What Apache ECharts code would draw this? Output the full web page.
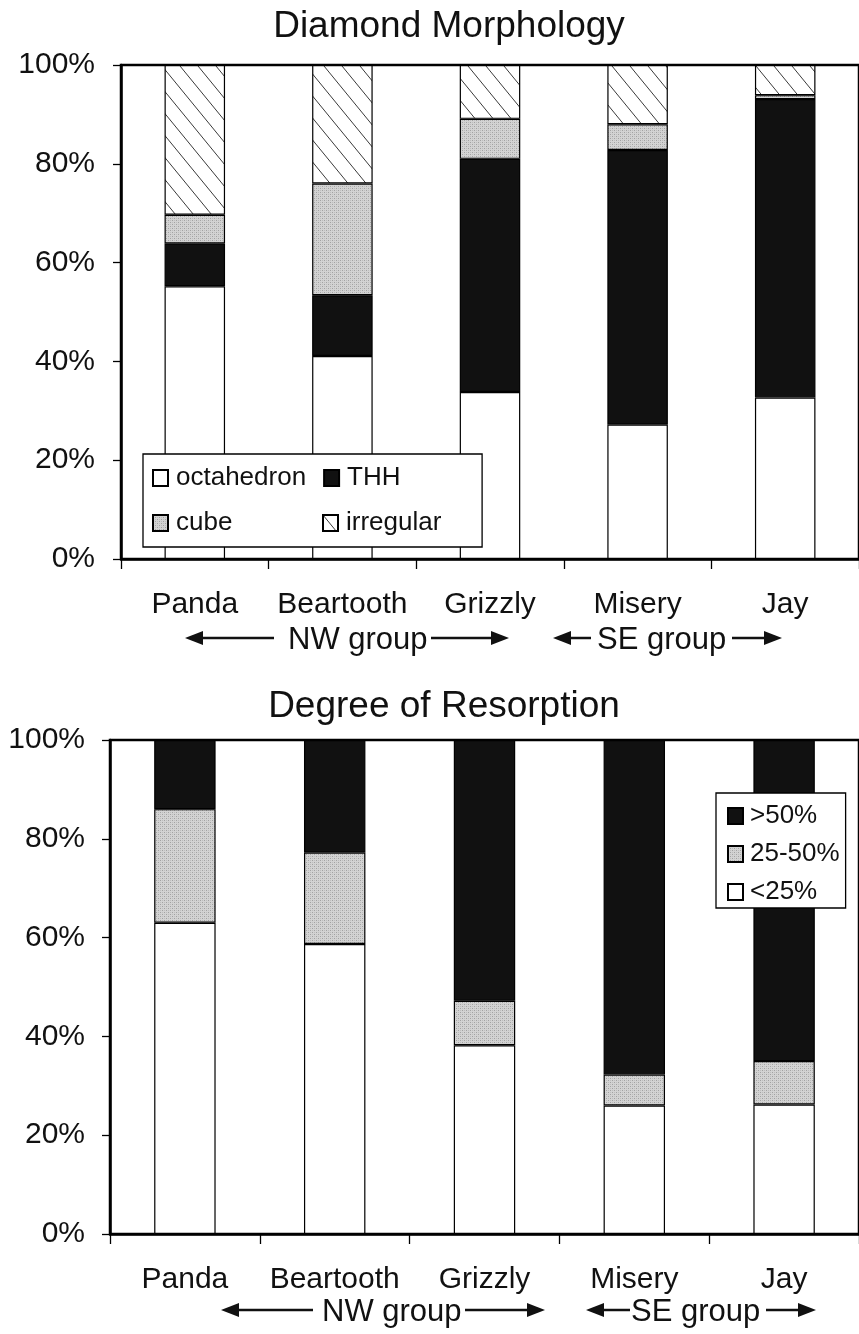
<!DOCTYPE html>
<html><head><meta charset="utf-8">
<script src="https://cdn.jsdelivr.net/npm/echarts@6/dist/echarts.min.js"></script>
<style>html,body{margin:0;padding:0;background:#fff}#c{width:859px;height:1334px}</style>
</head><body><div id="c"></div>
<script>
// ---- data ----
const categories = ['Panda', 'Beartooth', 'Grizzly', 'Misery', 'Jay'];
const yTickLabels = ['0%', '20%', '40%', '60%', '80%', '100%'];
// Diamond Morphology (stack segments, %)
const octahedron = [55.2, 41.1, 33.8, 27.2, 32.7];
const thh        = [8.7, 12.3, 47.2, 55.6, 60.4];
const cube       = [5.8, 22.6, 8.1, 5.2, 0.8];
const irregular  = [30.3, 24.0, 10.9, 12.0, 6.1];
// Degree of Resorption (stack segments, %)
const lt25    = [63.0, 58.7, 38.2, 26.0, 26.2];
const r25to50 = [23.0, 18.5, 9.0, 6.3, 8.8];
const gt50    = [14.0, 22.8, 52.8, 67.7, 65.0];
const titles = ['Diamond Morphology', 'Degree of Resorption'];
const groupLabels = ['NW group', 'SE group'];

// ---- patterns ----
function hatchPattern() {
  const w = 18, h = 22;
  const c = document.createElement('canvas'); c.width = w; c.height = h;
  const g = c.getContext('2d');
  g.fillStyle = '#fff'; g.fillRect(0, 0, w, h);
  g.strokeStyle = '#3a3a3a'; g.lineWidth = 1;
  g.beginPath();
  for (const dx of [-w, 0, w]) { g.moveTo(dx, 0); g.lineTo(dx + w, h); }
  g.stroke();
  return { image: c, repeat: 'repeat' };
}
function stipplePattern() {
  const c = document.createElement('canvas'); c.width = 4; c.height = 4;
  const g = c.getContext('2d');
  g.fillStyle = '#d3d3d3'; g.fillRect(0, 0, 4, 4);
  g.fillStyle = '#a2a2a2'; g.fillRect(0, 0, 1, 1); g.fillRect(2, 2, 1, 1);
  g.fillStyle = '#bdbdbd'; g.fillRect(2, 0, 1, 1); g.fillRect(0, 2, 1, 1);
  return { image: c, repeat: 'repeat' };
}
const HATCH = hatchPattern();
const GRAY = stipplePattern();

const FONT = '"Liberation Sans", Arial, Helvetica, sans-serif';
const TXT = '#111';

const grids = [
  { left: 121, top: 65, width: 739, height: 494 },
  { left: 110, top: 740, width: 761, height: 494 }
];

function xAxisFor(i) {
  return {
    type: 'category', gridIndex: i, data: categories,
    axisLine: { lineStyle: { color: '#000', width: 2.5 } },
    axisTick: { show: true, length: 10, lineStyle: { color: '#000', width: 1.3 } },
    axisLabel: { fontSize: 30, color: TXT, fontFamily: FONT, margin: 31, interval: 0 }
  };
}
function yAxisFor(i) {
  return {
    type: 'value', gridIndex: i, min: 0, max: 100, interval: 20,
    axisLine: { show: true, lineStyle: { color: '#000', width: 2.5 } },
    axisTick: { show: true, length: 8, lineStyle: { color: '#000', width: 1.3 } },
    splitLine: { show: false },
    axisLabel: {
      fontSize: 30, color: TXT, fontFamily: FONT, margin: i === 0 ? 26 : 25,
      formatter: v => yTickLabels[Math.round(v / 20)]
    }
  };
}
function bar(name, data, color, gi, stack) {
  return {
    name, type: 'bar', data, stack, xAxisIndex: gi, yAxisIndex: gi,
    barWidth: '41%',
    itemStyle: { color, borderColor: '#000', borderWidth: 1.2 },
    emphasis: { disabled: true }
  };
}

// group annotations (arrows + text)
function arrowLine(x1, x2, y, tipAtLeft, tipAtRight) {
  const els = [];
  const L = 18, H = 7;
  const a = tipAtLeft ? x1 + L - 2 : x1;
  const b = tipAtRight ? x2 - L + 2 : x2;
  els.push({ type: 'line', shape: { x1: a, y1: y, x2: b, y2: y }, style: { stroke: '#111', lineWidth: 2.5 } });
  if (tipAtLeft) els.push({ type: 'polygon', shape: { points: [[x1, y], [x1 + L, y - H], [x1 + L, y + H]] }, style: { fill: '#111' } });
  if (tipAtRight) els.push({ type: 'polygon', shape: { points: [[x2, y], [x2 - L, y - H], [x2 - L, y + H]] }, style: { fill: '#111' } });
  return els;
}
function groupText(text, x, y) {
  return { type: 'text', x, y, style: { text, fontSize: 31, fontFamily: FONT, fill: TXT, textVerticalAlign: 'middle', textAlign: 'left' } };
}
const graphics = [
  ...arrowLine(185, 274, 638, true, false), groupText(groupLabels[0], 288, 640),
  ...arrowLine(431, 509, 638, false, true),
  ...arrowLine(553, 591, 638, true, false), groupText(groupLabels[1], 597, 640),
  ...arrowLine(732, 782, 638, false, true),
  ...arrowLine(221, 313, 1310, true, false), groupText(groupLabels[0], 322, 1312),
  ...arrowLine(465, 545, 1310, false, true),
  ...arrowLine(586, 630, 1310, true, false), groupText(groupLabels[1], 631, 1312),
  ...arrowLine(766, 816, 1310, false, true)
];

const option = {
  backgroundColor: '#fff',
  animation: false,
  title: [
    { text: titles[0], left: 444, top: 3, textAlign: 'center', textStyle: { fontSize: 37, fontWeight: 'normal', color: TXT, fontFamily: FONT } },
    { text: titles[1], left: 439, top: 683, textAlign: 'center', textStyle: { fontSize: 37, fontWeight: 'normal', color: TXT, fontFamily: FONT } }
  ],
  grid: grids.map(g => Object.assign({ show: true, borderColor: '#000', borderWidth: 2.5, backgroundColor: 'transparent' }, g)),
  xAxis: [xAxisFor(0), xAxisFor(1)],
  yAxis: [yAxisFor(0), yAxisFor(1)],
  legend: [
    {
      data: ['octahedron', 'THH', 'cube', 'irregular'],
      left: 143, top: 454, width: 330, orient: 'horizontal',
      padding: [10, 6, 10, 9], itemGap: 17, itemWidth: 15, itemHeight: 16,
      icon: 'rect', backgroundColor: '#fff', borderColor: '#000', borderWidth: 1.3,
      selectedMode: false,
      textStyle: { fontSize: 26, color: TXT, fontFamily: FONT, width: 129, lineHeight: 28, padding: [0, 0, 0, 3] }
    },
    {
      data: ['>50%', '25-50%', '<25%'],
      left: 716, top: 793, orient: 'vertical',
      padding: [9, 6, 2, 11], itemGap: 10, itemWidth: 15, itemHeight: 16,
      icon: 'rect', backgroundColor: '#fff', borderColor: '#000', borderWidth: 1.3,
      selectedMode: false,
      textStyle: { fontSize: 26, color: TXT, fontFamily: FONT, lineHeight: 28, padding: [0, 0, 0, 2] }
    }
  ],
  series: [
    bar('octahedron', octahedron, '#fff', 0, 'morph'),
    bar('THH', thh, '#111', 0, 'morph'),
    bar('cube', cube, GRAY, 0, 'morph'),
    bar('irregular', irregular, HATCH, 0, 'morph'),
    bar('<25%', lt25, '#fff', 1, 'res'),
    bar('25-50%', r25to50, GRAY, 1, 'res'),
    bar('>50%', gt50, '#111', 1, 'res')
  ],
  graphic: graphics
};

const chart = echarts.init(document.getElementById('c'), null, { renderer: 'canvas' });
chart.setOption(option);
</script>
</body></html>
